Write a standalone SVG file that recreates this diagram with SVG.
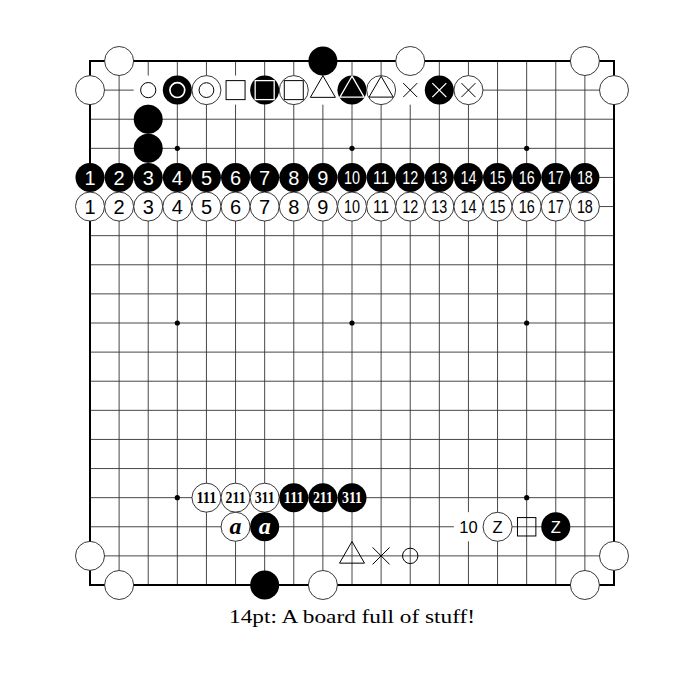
<svg xmlns="http://www.w3.org/2000/svg" width="700" height="700" viewBox="0 0 700 700">
<style>
.grid{stroke:#333;stroke-width:0.9;fill:none}
.border{stroke:#000;stroke-width:2;fill:none}
.w{fill:#fff;stroke:#222;stroke-width:0.9}
.b{fill:#000}
.bg{fill:#fff}
.hoshi{fill:#000}
.mk{fill:none;stroke:#000;stroke-width:1}
.mkf{fill:#fff;stroke:#000;stroke-width:1}
.mkw{fill:none;stroke:#fff;stroke-width:1.3}
.mkwb{fill:#000;stroke:#fff;stroke-width:1.3}
.n{font-family:"Liberation Sans",Arial,sans-serif;font-size:20px;text-anchor:middle}
.c{font-family:"Liberation Sans",Arial,sans-serif;font-size:18px;text-anchor:middle}
.s{font-family:"Liberation Serif","Times New Roman",serif;font-weight:bold;font-size:17px;text-anchor:middle}
.a{font-family:"Liberation Serif","Times New Roman",serif;font-weight:bold;font-style:italic;font-size:24px;text-anchor:middle}
.tw{fill:#fff}
.tb{fill:#000}
</style>
<rect width="700" height="700" fill="#fff"/>
<g id="board">
<path class="grid" d="M119.11 61V585M148.22 61V585M177.33 61V585M206.44 61V585M235.56 61V585M264.67 61V585M293.78 61V585M322.89 61V585M352 61V585M381.11 61V585M410.22 61V585M439.33 61V585M468.44 61V585M497.56 61V585M526.67 61V585M555.78 61V585M584.89 61V585M90 90.11H614M90 119.22H614M90 148.33H614M90 177.44H614M90 206.56H614M90 235.67H614M90 264.78H614M90 293.89H614M90 323H614M90 352.11H614M90 381.22H614M90 410.33H614M90 439.44H614M90 468.56H614M90 497.67H614M90 526.78H614M90 555.89H614"/>
<rect class="border" x="90" y="61" width="524" height="524"/>
<g id="hoshi" class="hoshi">
<circle cx="177.33" cy="148.33" r="2.6"/><circle cx="352" cy="148.33" r="2.6"/><circle cx="526.67" cy="148.33" r="2.6"/>
<circle cx="177.33" cy="323" r="2.6"/><circle cx="352" cy="323" r="2.6"/><circle cx="526.67" cy="323" r="2.6"/>
<circle cx="177.33" cy="497.67" r="2.6"/><circle cx="526.67" cy="497.67" r="2.6"/>
</g>
</g>
<g id="blanks" class="bg">
<rect x="133.67" y="75.55" width="29.11" height="29.11"/>
<rect x="221" y="75.55" width="29.11" height="29.11"/>
<rect x="308.33" y="75.55" width="29.11" height="29.11"/>
<rect x="395.66" y="75.55" width="29.11" height="29.11"/>
<rect x="453.88" y="512.22" width="29.11" height="29.11"/>
</g>
<g id="edge-stones">
<circle id="w-1-0" class="w" cx="119.11" cy="61" r="14.5"/>
<circle id="b-8-0" class="b" cx="322.89" cy="61" r="14.5"/>
<circle id="w-11-0" class="w" cx="410.22" cy="61" r="14.5"/>
<circle id="w-17-0" class="w" cx="584.89" cy="61" r="14.5"/>
<circle id="w-0-1" class="w" cx="90" cy="90.11" r="14.5"/>
<circle id="w-18-1" class="w" cx="614" cy="90.11" r="14.5"/>
<circle id="b-2-2" class="b" cx="148.22" cy="119.22" r="14.5"/>
<circle id="b-2-3" class="b" cx="148.22" cy="148.33" r="14.5"/>
<circle id="w-0-17" class="w" cx="90" cy="555.89" r="14.5"/>
<circle id="w-18-17" class="w" cx="614" cy="555.89" r="14.5"/>
<circle id="w-1-18" class="w" cx="119.11" cy="585" r="14.5"/>
<circle id="b-6-18" class="b" cx="264.67" cy="585" r="14.5"/>
<circle id="w-8-18" class="w" cx="322.89" cy="585" r="14.5"/>
<circle id="w-17-18" class="w" cx="584.89" cy="585" r="14.5"/>
</g>
<g id="marks-row1">
<g id="m-2-1"><circle class="mkf" cx="148.22" cy="90.11" r="7.6"/></g>
<g id="m-3-1"><circle class="b" cx="177.33" cy="90.11" r="14.5"/><circle class="mkw" cx="177.33" cy="90.11" r="7.4" style="stroke-width:1.7"/></g>
<g id="m-4-1"><circle class="w" cx="206.44" cy="90.11" r="14.5"/><circle class="mk" cx="206.44" cy="90.11" r="7.4"/></g>
<g id="m-5-1"><rect class="mkf" x="226.06" y="80.61" width="19" height="19"/></g>
<g id="m-6-1"><circle class="b" cx="264.67" cy="90.11" r="14.5"/><rect class="mkwb" x="255.17" y="80.61" width="19" height="19"/></g>
<g id="m-7-1"><circle class="w" cx="293.78" cy="90.11" r="14.5"/><rect class="mk" x="284.28" y="80.61" width="19" height="19"/></g>
<g id="m-8-1"><path class="mk" d="M322.89 75.7L335.39 97.35H310.39Z"/></g>
<g id="m-9-1"><circle class="b" cx="352" cy="90.11" r="14.5"/><path class="mkwb" d="M352 76.2L364.1 97.1H339.9Z"/></g>
<g id="m-10-1"><circle class="w" cx="381.11" cy="90.11" r="14.5"/><path class="mk" d="M381.11 76.2L393.21 97.1H369.01Z"/></g>
<g id="m-11-1"><path class="mk" d="M403.22 83.11L417.22 97.11M417.22 83.11L403.22 97.11"/></g>
<g id="m-12-1"><circle class="b" cx="439.33" cy="90.11" r="14.5"/><path class="mkw" d="M432.33 83.11L446.33 97.11M446.33 83.11L432.33 97.11"/></g>
<g id="m-13-1"><circle class="w" cx="468.44" cy="90.11" r="14.5"/><path class="mk" d="M461.44 83.11L475.44 97.11M475.44 83.11L461.44 97.11"/></g>
</g>
<g id="row-black-numbers">
<g id="bn1"><circle class="b" cx="90" cy="177.44" r="14.5"/><text class="n tw" x="90" y="184.6">1</text></g>
<g id="bn2"><circle class="b" cx="119.11" cy="177.44" r="14.5"/><text class="n tw" x="119.11" y="184.6">2</text></g>
<g id="bn3"><circle class="b" cx="148.22" cy="177.44" r="14.5"/><text class="n tw" x="148.22" y="184.6">3</text></g>
<g id="bn4"><circle class="b" cx="177.33" cy="177.44" r="14.5"/><text class="n tw" x="177.33" y="184.6">4</text></g>
<g id="bn5"><circle class="b" cx="206.44" cy="177.44" r="14.5"/><text class="n tw" x="206.44" y="184.6">5</text></g>
<g id="bn6"><circle class="b" cx="235.56" cy="177.44" r="14.5"/><text class="n tw" x="235.56" y="184.6">6</text></g>
<g id="bn7"><circle class="b" cx="264.67" cy="177.44" r="14.5"/><text class="n tw" x="264.67" y="184.6">7</text></g>
<g id="bn8"><circle class="b" cx="293.78" cy="177.44" r="14.5"/><text class="n tw" x="293.78" y="184.6">8</text></g>
<g id="bn9"><circle class="b" cx="322.89" cy="177.44" r="14.5"/><text class="n tw" x="322.89" y="184.6">9</text></g>
<g id="bn10"><circle class="b" cx="352" cy="177.44" r="14.5"/><text class="c tw" x="352" y="183.9" textLength="16" lengthAdjust="spacingAndGlyphs">10</text></g>
<g id="bn11"><circle class="b" cx="381.11" cy="177.44" r="14.5"/><text class="c tw" x="381.11" y="183.9" textLength="16" lengthAdjust="spacingAndGlyphs">11</text></g>
<g id="bn12"><circle class="b" cx="410.22" cy="177.44" r="14.5"/><text class="c tw" x="410.22" y="183.9" textLength="16" lengthAdjust="spacingAndGlyphs">12</text></g>
<g id="bn13"><circle class="b" cx="439.33" cy="177.44" r="14.5"/><text class="c tw" x="439.33" y="183.9" textLength="16" lengthAdjust="spacingAndGlyphs">13</text></g>
<g id="bn14"><circle class="b" cx="468.44" cy="177.44" r="14.5"/><text class="c tw" x="468.44" y="183.9" textLength="16" lengthAdjust="spacingAndGlyphs">14</text></g>
<g id="bn15"><circle class="b" cx="497.56" cy="177.44" r="14.5"/><text class="c tw" x="497.56" y="183.9" textLength="16" lengthAdjust="spacingAndGlyphs">15</text></g>
<g id="bn16"><circle class="b" cx="526.67" cy="177.44" r="14.5"/><text class="c tw" x="526.67" y="183.9" textLength="16" lengthAdjust="spacingAndGlyphs">16</text></g>
<g id="bn17"><circle class="b" cx="555.78" cy="177.44" r="14.5"/><text class="c tw" x="555.78" y="183.9" textLength="16" lengthAdjust="spacingAndGlyphs">17</text></g>
<g id="bn18"><circle class="b" cx="584.89" cy="177.44" r="14.5"/><text class="c tw" x="584.89" y="183.9" textLength="16" lengthAdjust="spacingAndGlyphs">18</text></g>
</g>
<g id="row-white-numbers">
<g id="wn1"><circle class="w" cx="90" cy="206.56" r="14.5"/><text class="n tb" x="90" y="213.7">1</text></g>
<g id="wn2"><circle class="w" cx="119.11" cy="206.56" r="14.5"/><text class="n tb" x="119.11" y="213.7">2</text></g>
<g id="wn3"><circle class="w" cx="148.22" cy="206.56" r="14.5"/><text class="n tb" x="148.22" y="213.7">3</text></g>
<g id="wn4"><circle class="w" cx="177.33" cy="206.56" r="14.5"/><text class="n tb" x="177.33" y="213.7">4</text></g>
<g id="wn5"><circle class="w" cx="206.44" cy="206.56" r="14.5"/><text class="n tb" x="206.44" y="213.7">5</text></g>
<g id="wn6"><circle class="w" cx="235.56" cy="206.56" r="14.5"/><text class="n tb" x="235.56" y="213.7">6</text></g>
<g id="wn7"><circle class="w" cx="264.67" cy="206.56" r="14.5"/><text class="n tb" x="264.67" y="213.7">7</text></g>
<g id="wn8"><circle class="w" cx="293.78" cy="206.56" r="14.5"/><text class="n tb" x="293.78" y="213.7">8</text></g>
<g id="wn9"><circle class="w" cx="322.89" cy="206.56" r="14.5"/><text class="n tb" x="322.89" y="213.7">9</text></g>
<g id="wn10"><circle class="w" cx="352" cy="206.56" r="14.5"/><text class="c tb" x="352" y="213" textLength="16" lengthAdjust="spacingAndGlyphs">10</text></g>
<g id="wn11"><circle class="w" cx="381.11" cy="206.56" r="14.5"/><text class="c tb" x="381.11" y="213" textLength="16" lengthAdjust="spacingAndGlyphs">11</text></g>
<g id="wn12"><circle class="w" cx="410.22" cy="206.56" r="14.5"/><text class="c tb" x="410.22" y="213" textLength="16" lengthAdjust="spacingAndGlyphs">12</text></g>
<g id="wn13"><circle class="w" cx="439.33" cy="206.56" r="14.5"/><text class="c tb" x="439.33" y="213" textLength="16" lengthAdjust="spacingAndGlyphs">13</text></g>
<g id="wn14"><circle class="w" cx="468.44" cy="206.56" r="14.5"/><text class="c tb" x="468.44" y="213" textLength="16" lengthAdjust="spacingAndGlyphs">14</text></g>
<g id="wn15"><circle class="w" cx="497.56" cy="206.56" r="14.5"/><text class="c tb" x="497.56" y="213" textLength="16" lengthAdjust="spacingAndGlyphs">15</text></g>
<g id="wn16"><circle class="w" cx="526.67" cy="206.56" r="14.5"/><text class="c tb" x="526.67" y="213" textLength="16" lengthAdjust="spacingAndGlyphs">16</text></g>
<g id="wn17"><circle class="w" cx="555.78" cy="206.56" r="14.5"/><text class="c tb" x="555.78" y="213" textLength="16" lengthAdjust="spacingAndGlyphs">17</text></g>
<g id="wn18"><circle class="w" cx="584.89" cy="206.56" r="14.5"/><text class="c tb" x="584.89" y="213" textLength="16" lengthAdjust="spacingAndGlyphs">18</text></g>
</g>
<g id="row15">
<g id="w111"><circle class="w" cx="206.44" cy="497.67" r="14.5"/><text class="s tb" x="206.44" y="503.3" textLength="20" lengthAdjust="spacingAndGlyphs">111</text></g>
<g id="w211"><circle class="w" cx="235.56" cy="497.67" r="14.5"/><text class="s tb" x="235.56" y="503.3" textLength="20" lengthAdjust="spacingAndGlyphs">211</text></g>
<g id="w311"><circle class="w" cx="264.67" cy="497.67" r="14.5"/><text class="s tb" x="264.67" y="503.3" textLength="20" lengthAdjust="spacingAndGlyphs">311</text></g>
<g id="b111"><circle class="b" cx="293.78" cy="497.67" r="14.5"/><text class="s tw" x="293.78" y="503.3" textLength="20" lengthAdjust="spacingAndGlyphs">111</text></g>
<g id="b211"><circle class="b" cx="322.89" cy="497.67" r="14.5"/><text class="s tw" x="322.89" y="503.3" textLength="20" lengthAdjust="spacingAndGlyphs">211</text></g>
<g id="b311"><circle class="b" cx="352" cy="497.67" r="14.5"/><text class="s tw" x="352" y="503.3" textLength="20" lengthAdjust="spacingAndGlyphs">311</text></g>
</g>
<g id="row16">
<g id="wa"><circle class="w" cx="235.56" cy="526.78" r="14.5"/><text class="a tb" x="235.56" y="533.8">a</text></g>
<g id="ba"><circle class="b" cx="264.67" cy="526.78" r="14.5"/><text class="a tw" x="264.67" y="533.8">a</text></g>
<g id="label10"><text class="c tb" x="468.44" y="532.8" style="font-size:16.5px">10</text></g>
<g id="wZ"><circle class="w" cx="497.56" cy="526.78" r="14.5"/><text class="c tb" x="497.56" y="532.8" style="font-size:16.5px">Z</text></g>
<g id="sq-15-16"><rect class="mk" x="517.47" y="517.58" width="18.4" height="18.4"/></g>
<g id="bZ"><circle class="b" cx="555.78" cy="526.78" r="14.5"/><text class="c tw" x="555.78" y="532.8" style="font-size:16.5px">Z</text></g>
</g>
<g id="row17-marks">
<g id="tri-9-17"><path class="mk" d="M352 541.5L364.5 563.15H339.5Z"/></g>
<g id="x-10-17"><path class="mk" d="M372.6 547.4L389.6 564.4M389.6 547.4L372.6 564.4"/></g>
<g id="c-11-17"><circle class="mk" cx="410.22" cy="555.89" r="7.7"/></g>
</g>
<text x="352" y="623" font-family="Liberation Serif, Times New Roman, serif" font-size="19" text-anchor="middle" textLength="246" lengthAdjust="spacingAndGlyphs">14pt: A board full of stuff!</text>
</svg>
